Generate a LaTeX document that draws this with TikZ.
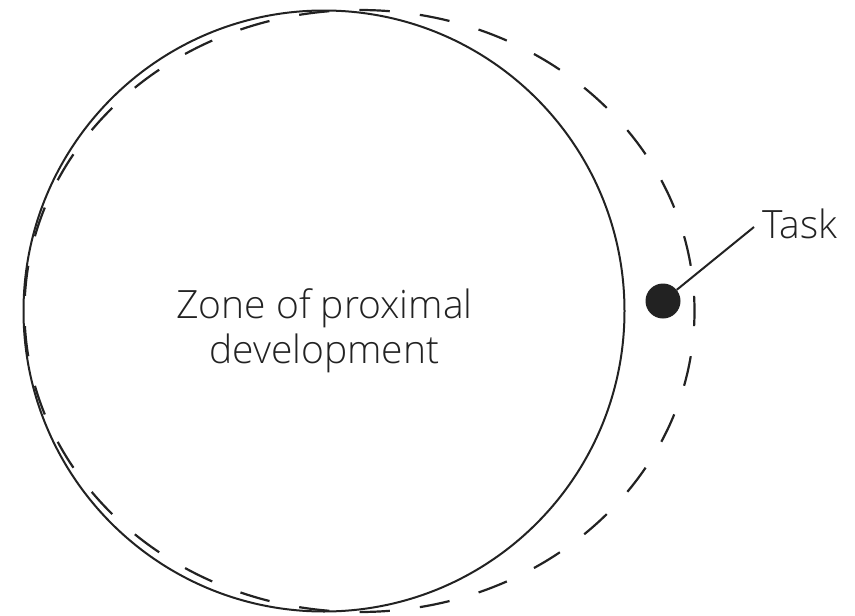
\documentclass[tikz,border=0pt]{standalone}
\usepackage{fontspec}
\setmainfont{Open Sans Light}
\definecolor{ink}{HTML}{222222}
\begin{document}
\begin{tikzpicture}[x=1pt,y=-1pt,
  outline/.style={draw=ink,line width=2pt},
  dashoutline/.style={draw=ink,line width=2.2pt,dash pattern=on 30.3pt off 30.3pt,dash phase=15.15pt},
  lbl/.style={text=ink,font=\fontsize{39}{45}\selectfont,inner sep=0pt},
  taskdot/.style={circle,fill=ink,minimum size=35pt,inner sep=0pt},
  leader/.style={draw=ink,line width=2pt}]
\useasboundingbox (0,0) rectangle (855,616);
\draw[outline] (324,311) circle[radius=300.5pt];
\draw[dashoutline] (359.5,311) ellipse[x radius=335pt,y radius=301pt];
\node[lbl,align=center,anchor=base] (zpd) at (324.5,363) {Zone of proximal\\development};
\node[taskdot] (dot) at (663,301) {};
\coordinate (tip) at (754,227);
\node[lbl,anchor=base west] (task) at (762,238) {Task};
\draw[leader] (dot) -- (tip);
\end{tikzpicture}
\end{document}
